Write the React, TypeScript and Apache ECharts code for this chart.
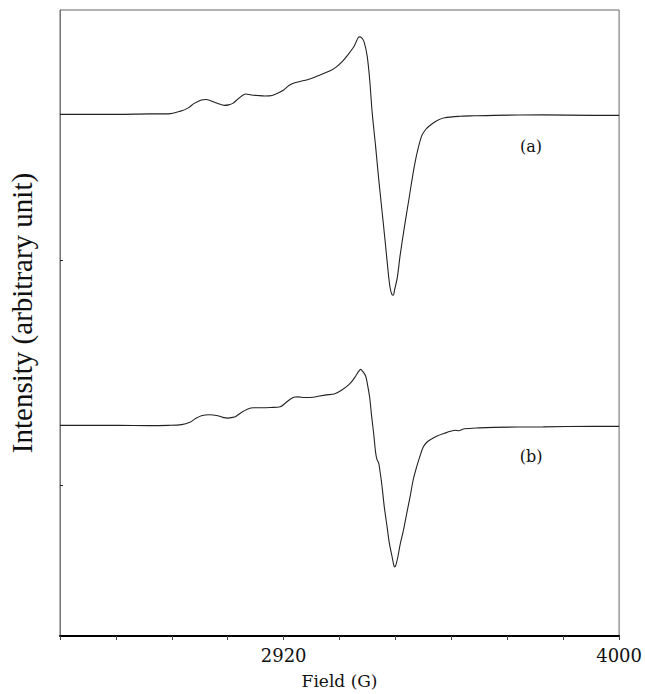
import React, { useEffect, useRef } from "react";
import * as echarts from "echarts";

// Field values (G) and intensities (arbitrary units, relative to each trace's baseline)
const fieldA = [2200, 2390, 2486, 2549, 2586, 2613, 2632, 2655, 2670, 2687, 2708, 2729, 2743, 2756, 2775, 2798, 2816, 2835, 2860, 2883, 2902, 2920, 2937, 2956, 2978, 2999, 3025, 3068, 3089, 3110, 3127, 3147, 3155, 3163, 3170, 3179, 3189, 3197, 3205, 3216, 3226, 3237, 3248, 3257, 3263, 3269, 3273, 3277, 3286, 3295, 3308, 3322, 3343, 3364, 3378, 3396, 3416, 3438, 3486, 3533, 3597, 3756, 3914, 4000];
const intensityA = [0, 0, 0.5, 0.5, 3, 6.5, 11, 14.5, 15, 13.5, 11, 9, 9.5, 11, 16, 20.5, 19.5, 19, 18.5, 19, 21.5, 24.5, 29, 31.7, 33.5, 35, 38, 43.5, 47.5, 53.5, 60, 68.5, 74, 78, 77.5, 73, 58.5, 35, 2, -32, -65, -98, -131.5, -160, -175, -181.5, -182, -177, -164, -142, -115, -88, -48.5, -22, -15, -10, -6, -3.5, -2, -1.5, -1, -0.5, -1, -1];

const fieldB = [2200, 2390, 2486, 2549, 2591, 2618, 2635, 2655, 2681, 2708, 2724, 2740, 2756, 2766, 2784, 2803, 2824, 2851, 2877, 2909, 2924, 2941, 2956, 2967, 2987, 3015, 3035, 3057, 3083, 3105, 3131, 3143, 3152, 3162, 3168, 3174, 3184, 3190, 3197, 3203, 3210, 3216, 3220, 3226, 3232, 3237, 3244, 3253, 3260, 3269, 3274, 3277, 3281, 3288, 3295, 3306, 3316, 3327, 3337, 3348, 3359, 3369, 3381, 3396, 3416, 3438, 3457, 3473, 3483, 3502, 3549, 3597, 3756, 3914, 4000];
const intensityB = [0, 0, -0.3, 0, 0.7, 3, 6.5, 9.7, 10.7, 9.7, 8, 7.3, 8, 9, 13, 16.3, 17.7, 17.7, 18, 18.7, 22, 26.3, 28.5, 28.7, 28, 28.2, 29.5, 30.7, 31.5, 35, 41.3, 45.5, 49.7, 54.5, 56.3, 54.5, 49.7, 41, 28, 10, -8.7, -27, -34, -38, -50, -62, -82, -102, -118, -132, -140, -142.5, -141, -132, -120, -105.3, -89, -72, -55, -42, -31, -22, -17, -13.7, -10.5, -8, -6, -5, -5.5, -3.5, -2.5, -2, -1.5, -1, -1];

// vertical offsets of the two stacked traces (same arbitrary units)
const offsetA = 525;
const offsetB = 212;

const xTicks = [2200, 2380, 2560, 2740, 2920, 3100, 3280, 3460, 3640, 3820, 4000];
const xLabels = [2920, 4000];
const yTicks = [152, 378];

const traceLabels = ["(a)", "(b)"];

export default function App() {
  const ref = useRef<HTMLDivElement>(null);
  useEffect(() => {
    if (!ref.current) return;
    const chart = echarts.init(ref.current, undefined, { renderer: "svg" });
    const dataA = fieldA.map((f, i) => [f, intensityA[i] + offsetA]);
    const dataB = fieldB.map((f, i) => [f, intensityB[i] + offsetB]);
    chart.setOption({
      animation: false,
      backgroundColor: "#ffffff",
      grid: {
        left: 60,
        right: 17,
        top: 10,
        bottom: 54,
        show: true,
        borderColor: "#666",
        borderWidth: 1,
      },
      xAxis: {
        type: "value",
        min: 2200,
        max: 4000,
        splitLine: { show: false },
        axisLine: { show: true, lineStyle: { color: "#000", width: 2 } },
        axisTick: {
          show: true,
          customValues: xTicks,
          length: 4,
          lineStyle: { color: "#444", width: 1 },
        },
        axisLabel: {
          customValues: xLabels,
          formatter: (v: number) => String(v),
          margin: 10,
          color: "#111",
          fontFamily: "DejaVu Serif",
          fontSize: 18,
        },
        name: "Field (G)",
        nameLocation: "middle",
        nameGap: 36,
        nameTextStyle: {
          color: "#111",
          fontFamily: "DejaVu Serif",
          fontSize: 17,
        },
      },
      yAxis: {
        type: "value",
        min: 0,
        max: 630,
        splitLine: { show: false },
        axisLine: { show: true, lineStyle: { color: "#777", width: 1 } },
        axisTick: {
          show: true,
          inside: true,
          customValues: yTicks,
          length: 3,
          lineStyle: { color: "#222" },
        },
        axisLabel: { show: false },
      },
      graphic: [
        {
          type: "text",
          x: 22,
          y: 313,
          rotation: Math.PI / 2,
          style: {
            text: "Intensity (arbitrary unit)",
            fontFamily: "Liberation Serif",
            fontSize: 29,
            fill: "#111",
            align: "center",
            verticalAlign: "middle",
          },
        },
        {
          type: "text",
          x: 531,
          y: 146,
          style: {
            text: traceLabels[0],
            fontFamily: "DejaVu Serif",
            fontSize: 16,
            fill: "#111",
            align: "center",
            verticalAlign: "middle",
          },
        },
        {
          type: "text",
          x: 531,
          y: 456,
          style: {
            text: traceLabels[1],
            fontFamily: "DejaVu Serif",
            fontSize: 16,
            fill: "#111",
            align: "center",
            verticalAlign: "middle",
          },
        },
      ],
      series: [
        {
          name: "a",
          type: "line",
          data: dataA,
          showSymbol: false,
          symbol: "none",
          smooth: 0.3,
          lineStyle: { color: "#222", width: 1.1 },
        },
        {
          name: "b",
          type: "line",
          data: dataB,
          showSymbol: false,
          symbol: "none",
          smooth: 0.3,
          lineStyle: { color: "#222", width: 1.1 },
        },
      ],
    });
    return () => chart.dispose();
  }, []);
  return (
    <div
      ref={ref}
      style={{ position: "fixed", left: 0, top: 0, width: 645, height: 694, background: "#fff" }}
    />
  );
}
